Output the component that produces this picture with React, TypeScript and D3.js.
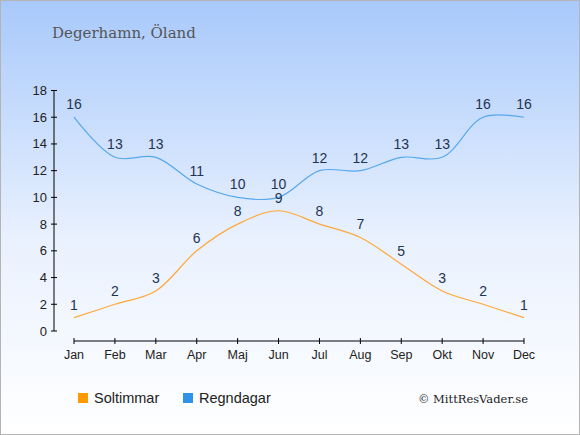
import React from 'react';
import * as d3 from 'd3';

const months = ['Jan', 'Feb', 'Mar', 'Apr', 'Maj', 'Jun', 'Jul', 'Aug', 'Sep', 'Okt', 'Nov', 'Dec'];
const sunHours = [1, 2, 3, 6, 8, 9, 8, 7, 5, 3, 2, 1];
const rainDays = [16, 13, 13, 11, 10, 10, 12, 12, 13, 13, 16, 16];
const yTicks = [0, 2, 4, 6, 8, 10, 12, 14, 16, 18];

const W = 580;
const H = 435;

const SUN_LINE = '#ffa838';
const RAIN_LINE = '#55a8ee';
const LABEL = '#1f3352';

const App: React.FC = () => {
  const x = d3.scalePoint<string>().domain(months).range([74, 524]);
  const y = d3.scaleLinear().domain([0, 18]).range([331, 90.5]);

  const line = d3.line<number>()
    .x((d, i) => x(months[i]) as number)
    .y(d => y(d))
    .curve(d3.curveCatmullRom.alpha(0.5));

  const font = '"Liberation Sans", Arial, sans-serif';
  const serif = '"DejaVu Serif", Georgia, serif';

  return (
    <div style={{ position: 'fixed', left: 0, top: 0 }}>
      <svg width={W} height={H} style={{ display: 'block' }}>
        <defs>
          <linearGradient id="bg" x1="0" y1="0" x2="0" y2="1">
            <stop offset="0" stopColor="#a8c9fb" />
            <stop offset="0.55" stopColor="#e9f1fe" />
            <stop offset="1" stopColor="#ffffff" />
          </linearGradient>
        </defs>
        <rect x={0.5} y={0.5} width={W - 1} height={H - 1} fill="url(#bg)" stroke="#b4b4b4" />

        <text x={52} y={38} fontFamily={serif} fontSize={15} fill="#555">Degerhamn, Öland</text>

        {/* y axis */}
        <line x1={54} x2={54} y1={y(18)} y2={y(0)} stroke="#000" />
        {yTicks.map(t => (
          <g key={t}>
            <line x1={51} x2={57} y1={y(t)} y2={y(t)} stroke="#000" />
            <text x={47} y={y(t) + 4.5} textAnchor="end" fontFamily={font} fontSize={13} fill="#222">{t}</text>
          </g>
        ))}

        {/* x axis */}
        <line x1={x('Jan')} x2={x('Dec')} y1={341} y2={341} stroke="#000" />
        {months.map(m => (
          <g key={m}>
            <line x1={x(m)} x2={x(m)} y1={338} y2={344} stroke="#000" />
            <text x={x(m)} y={359} textAnchor="middle" fontFamily={font} fontSize={12.5} fill="#222">{m}</text>
          </g>
        ))}

        <path d={line(rainDays) || ''} fill="none" stroke={RAIN_LINE} strokeWidth={1.2} />
        <path d={line(sunHours) || ''} fill="none" stroke={SUN_LINE} strokeWidth={1.2} />

        {rainDays.map((v, i) => (
          <text key={'r' + i} x={x(months[i])} y={y(v) - 8} textAnchor="middle" fontFamily={font} fontSize={14} fill={LABEL}>{v}</text>
        ))}
        {sunHours.map((v, i) => (
          <text key={'s' + i} x={x(months[i])} y={y(v) - 8} textAnchor="middle" fontFamily={font} fontSize={14} fill={LABEL}>{v}</text>
        ))}

        {/* legend */}
        <rect x={78} y={393} width={10} height={10} fill="#ff9900" />
        <text x={94} y={403} fontFamily={font} fontSize={14.5} fill="#222">Soltimmar</text>
        <rect x={183} y={393} width={10} height={10} fill="#2e93e8" />
        <text x={199} y={403} fontFamily={font} fontSize={14.5} fill="#222">Regndagar</text>

        <text x={528} y={403} textAnchor="end" fontFamily={serif} fontSize={11.5} fill="#222">© MittResVader.se</text>
      </svg>
    </div>
  );
};

export default App;
